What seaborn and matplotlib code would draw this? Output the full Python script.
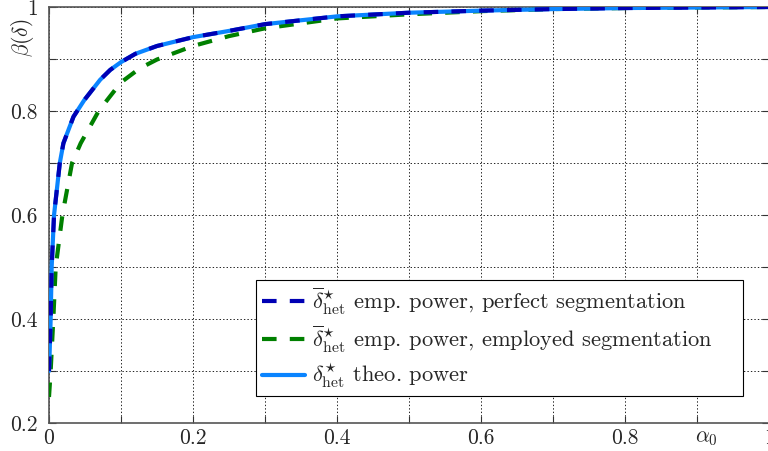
import matplotlib
matplotlib.use("Agg")
import matplotlib.pyplot as plt
import seaborn as sns
import numpy as np

# ---- data ----
alpha_theo = [0.0, 0.001, 0.0023, 0.0037, 0.007, 0.015, 0.02, 0.034, 0.049, 0.071, 0.085,
              0.1, 0.12, 0.15, 0.2, 0.25, 0.3, 0.4, 0.5, 0.6, 0.7, 0.8, 0.9, 1.0]
power_theo = [0.30, 0.34, 0.40, 0.50, 0.60, 0.70, 0.738, 0.789, 0.821, 0.86, 0.879,
              0.894, 0.910, 0.925, 0.942, 0.954, 0.967, 0.982, 0.989, 0.993, 0.996, 0.998, 0.999, 1.0]

alpha_perfect = [0.0, 0.001, 0.0023, 0.0037, 0.007, 0.015, 0.02, 0.034, 0.049, 0.071, 0.085,
                 0.1, 0.12, 0.15, 0.2, 0.25, 0.3, 0.4, 0.5, 0.6, 0.7, 0.8, 0.9, 1.0]
power_perfect = [0.30, 0.34, 0.40, 0.50, 0.60, 0.70, 0.738, 0.789, 0.821, 0.86, 0.879,
                 0.894, 0.910, 0.925, 0.942, 0.954, 0.967, 0.982, 0.989, 0.993, 0.996, 0.998, 0.999, 1.0]

alpha_employed = [0.0, 0.0014, 0.0023, 0.006, 0.0093, 0.0186, 0.032, 0.044, 0.069, 0.083,
                  0.1, 0.126, 0.15, 0.2, 0.25, 0.3, 0.4, 0.5, 0.6, 0.7, 0.8, 0.9, 1.0]
power_employed = [0.25, 0.28, 0.30, 0.40, 0.50, 0.60, 0.70, 0.738, 0.80, 0.825,
                  0.855, 0.882, 0.899, 0.925, 0.944, 0.959, 0.978, 0.986, 0.992, 0.996, 0.998, 0.999, 1.0]

labels = [r"$\overline{\delta}^{\star}_{\mathrm{het}}$ emp. power, perfect segmentation",
          r"$\overline{\delta}^{\star}_{\mathrm{het}}$ emp. power, employed segmentation",
          r"$\delta^{\star}_{\mathrm{het}}$ theo. power"]

xticks = [0, 0.2, 0.4, 0.6, 0.8, 1.0]
xticklabels = ["0", "0.2", "0.4", "0.6", "0.8", "1"]
yticks = [0.2, 0.4, 0.6, 0.8, 1.0]
yticklabels = ["0.2", "0.4", "0.6", "0.8", "1"]

# ---- style ----
sns.set_theme(style="ticks")
plt.rcParams["font.family"] = ["cmr10", "DejaVu Serif"]
plt.rcParams["mathtext.fontset"] = "cm"
plt.rcParams["axes.unicode_minus"] = False
plt.rcParams["lines.scale_dashes"] = False

FS = 15.5
LFS = 16.2
c_dark = "#0000b4"
c_green = "#008000"
c_light = "#0a84ff"

fig = plt.figure(figsize=(7.68, 4.51), dpi=100)
ax = fig.add_axes([49 / 768, 28 / 451, 720 / 768, 416 / 451])

dash = (0, (10.5, 9.5))
sns.lineplot(x=alpha_employed, y=power_employed, ax=ax, color=c_green, linewidth=3.0,
             linestyle=dash, label=labels[1], zorder=3)
sns.lineplot(x=alpha_theo, y=power_theo, ax=ax, color=c_light, linewidth=3.0,
             label=labels[2], zorder=4)
sns.lineplot(x=alpha_perfect, y=power_perfect, ax=ax, color=c_dark, linewidth=3.0,
             linestyle=dash, label=labels[0], zorder=5)

ax.set_xlim(0, 1)
ax.set_ylim(0.2, 1)

ax.set_xticks(np.round(np.arange(0, 1.01, 0.1), 1), minor=True)
ax.set_yticks(np.round(np.arange(0.2, 1.01, 0.1), 1), minor=True)
ax.set_xticks(xticks)
ax.set_xticklabels(xticklabels)
ax.set_yticks(yticks)
ax.set_yticklabels(yticklabels)
ax.tick_params(which="both", direction="in", top=True, right=True, length=5,
               width=0.8, color="#333333", labelsize=FS)
ax.tick_params(axis="x", pad=4)
ax.tick_params(axis="y", pad=8)
ax.grid(True, which="both", linestyle=(0, (1, 1.5)), color="#222222", linewidth=0.7)
for s in ax.spines.values():
    s.set_color("#555555")
    s.set_linewidth(1.2)
ax.set_xlabel("")
ax.set_ylabel("")

fig.text(23 / 768, 1 - 38 / 451, r"$\beta(\delta)$", rotation=90, ha="center", va="center",
         fontsize=FS)
ax.text(0.9125, -0.036, r"$\alpha_0$", transform=ax.transAxes, ha="center", va="center",
        fontsize=FS)

h, l = ax.get_legend_handles_labels()
order = [l.index(labels[0]), l.index(labels[1]), l.index(labels[2])]
leg_x0 = (256 - 49) / 720
leg_x1 = (743 - 49) / 720
leg_y0 = (423 - 396) / 416
leg_y1 = (423 - 282) / 416
leg = ax.legend([h[i] for i in order], [l[i] for i in order], loc="lower left",
                bbox_to_anchor=(leg_x0, leg_y0, leg_x1 - leg_x0, leg_y1 - leg_y0),
                mode="expand", borderaxespad=0, fontsize=LFS,
                handlelength=1.95, handletextpad=0.3, labelspacing=0.3,
                borderpad=0.25, fancybox=False, framealpha=1, edgecolor="black")
leg.get_frame().set_linewidth(0.8)

fig.savefig("out.png", dpi=100)
